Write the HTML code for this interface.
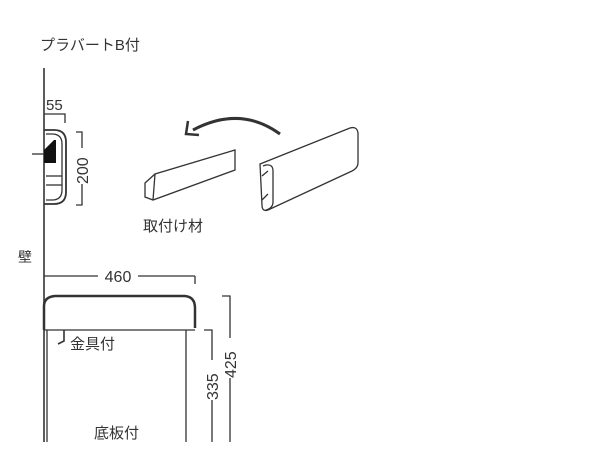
<!DOCTYPE html>
<html><head><meta charset="utf-8"><style>
body{margin:0;background:#fff;width:600px;height:454px;overflow:hidden}
svg{display:block}
text{font-family:"Liberation Sans","Noto Sans CJK JP",sans-serif;fill:#333}
</style></head><body>
<svg width="600" height="454" viewBox="0 0 600 454" fill="none" stroke="#333" stroke-width="1.3">
<text x="40" y="50" font-size="15" stroke="none">プラバートB付</text>
<!-- wall -->
<line x1="44" y1="68" x2="44" y2="442" stroke-width="1.6"/>
<!-- 55 dim -->
<text x="46" y="110" font-size="15" stroke="none">55</text>
<polyline points="44,114 65,114 65,123"/>
<!-- small section -->
<path d="M44,130 H54 Q66,130 66,142 V192 Q66,204 54,204 H44" stroke-width="1.8"/>
<path d="M46,134 H52 Q62,134 62,144 V190 Q62,200 52,200 H46"/>
<path d="M44,163 L44,150 L54,140 L56,140 L56,163 Z" fill="#111" stroke="none"/>
<line x1="32" y1="154" x2="44" y2="154"/>
<line x1="46" y1="176" x2="62" y2="176"/>
<line x1="46" y1="185" x2="62" y2="185"/>
<!-- 200 dim -->
<polyline points="76,132 82,132 82,148"/>
<polyline points="82,184 82,205 76,205"/>
<text x="0" y="0" font-size="16" stroke="none" transform="translate(88,184) rotate(-90)">200</text>
<text x="18" y="262" font-size="14" stroke="none">壁</text>
<!-- arrow -->
<path d="M280,134 Q240,105 193,130" stroke-width="3"/>
<polyline points="188,121 186,134 199,135" stroke-width="2.5"/>
<!-- left piece -->
<path d="M145,183 L155,174 L235,150 L235,170 L153,200 L145,197 Z"/>
<line x1="155" y1="174" x2="153" y2="200"/>
<!-- right piece -->
<path d="M260,164 L350,128 Q357,126 358,133 L358,163 Q358,168 352,171 L268,210 Q262,212 262,205 Z"/>
<path d="M263,166 L266,165 Q273,164 273,171 V202 Q273,208 266,210"/>
<path d="M262,176 L268,171 M262,200 L268,194"/>
<text x="143" y="231" font-size="15" stroke="none">取付け材</text>
<!-- 460 dim -->
<line x1="44" y1="276" x2="98" y2="276"/>
<line x1="138" y1="276" x2="195" y2="276"/>
<line x1="195" y1="276" x2="195" y2="284"/>
<text x="118" y="282" font-size="16" stroke="none" text-anchor="middle">460</text>
<!-- cabinet -->
<path d="M44,330 V306 Q44,297 55,296 H185 Q195,297 195,308 V328" stroke-width="2.5"/>
<line x1="44" y1="330" x2="195" y2="330"/>
<path d="M47,330 V442 M186,330 V442"/>
<polyline points="64,330 64,341 58,344" stroke-width="1.6"/>
<text x="70" y="349" font-size="15" stroke="none">金具付</text>
<text x="94" y="438" font-size="15" stroke="none">底板付</text>
<!-- 335 / 425 dims -->
<polyline points="204,330 212,330 212,360"/>
<line x1="212" y1="400" x2="212" y2="442"/>
<text x="0" y="0" font-size="16" stroke="none" transform="translate(218,400) rotate(-90)">335</text>
<polyline points="222,296 230,296 230,338"/>
<line x1="230" y1="378" x2="230" y2="442"/>
<text x="0" y="0" font-size="16" stroke="none" transform="translate(236,378) rotate(-90)">425</text>
</svg>
</body></html>
